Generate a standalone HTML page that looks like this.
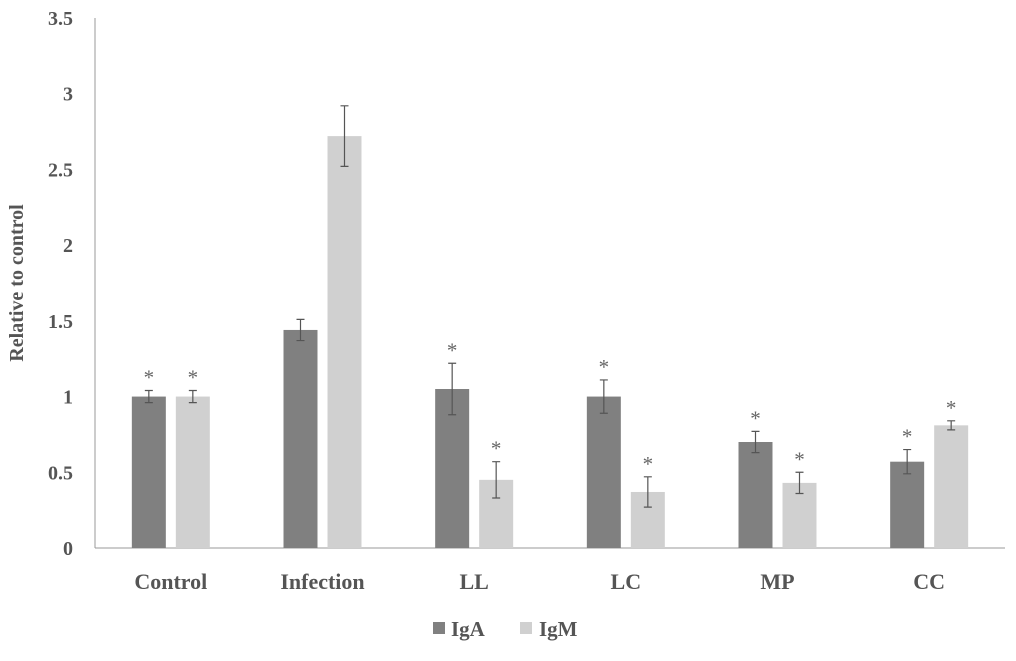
<!DOCTYPE html>
<html><head><meta charset="utf-8"><style>
body{margin:0;background:#fff;}
svg text{font-family:"Liberation Serif",serif;}
</style></head><body>
<svg id="chart" width="1016" height="656" viewBox="0 0 1016 656"></svg>
<script>
const categories=["Control","Infection","LL","LC","MP","CC"];
const igaValues=[1.0,1.44,1.05,1.0,0.70,0.57];
const igaErrors=[0.04,0.07,0.17,0.11,0.07,0.08];
const igmValues=[1.0,2.72,0.45,0.37,0.43,0.81];
const igmErrors=[0.04,0.20,0.12,0.10,0.07,0.03];
const significant=[true,false,true,true,true,true];
const yTicks=[0,0.5,1,1.5,2,2.5,3,3.5];
const yTickLabels=["0","0.5","1","1.5","2","2.5","3","3.5"];

const NS="http://www.w3.org/2000/svg";
const svg=document.getElementById('chart');
const x0=95,x1=1005,y0=548,yTop=18,yMax=3.5;
const yScale=v=>y0-(v/yMax)*(y0-yTop);
const groupW=(x1-x0)/categories.length;
const xCenter=i=>x0+groupW*(i+0.5);
const barW=34,offset=22;
function mk(tag,attrs){const e=document.createElementNS(NS,tag);for(const k in attrs)e.setAttribute(k,attrs[k]);svg.appendChild(e);return e;}

let ya=mk('line',{x1:x0,y1:yTop,x2:x0,y2:y0,stroke:'#999','stroke-width':1});


let xa=mk('line',{x1:x0,y1:y0,x2:x1,y2:y0,stroke:'#999','stroke-width':1});



yTicks.forEach((t,i)=>{
  const tx=mk('text',{x:73,y:yScale(t)+7,'text-anchor':'end','font-size':20,'font-weight':'bold',fill:'#555'});
  tx.textContent=yTickLabels[i];
  
  
});
const yt=mk('text',{x:0,y:0,transform:'translate(23,283) rotate(-90)','text-anchor':'middle','font-size':20,'font-weight':'bold',fill:'#555'});
yt.textContent='Relative to control';



function bar(cx,v,err,color,name,star){
  const r=mk('rect',{x:cx-barW/2,y:yScale(v),width:barW,height:y0-yScale(v),fill:color});
  
  
  const top=yScale(v+err),bot=yScale(v-err);
  const eb=mk('path',{d:`M${cx},${top}V${bot}M${cx-4},${top}H${cx+4}M${cx-4},${bot}H${cx+4}`,stroke:'#555','stroke-width':1.2,fill:'none'});
  
  
  if(star){
    const s=mk('text',{x:cx,y:top-6,'text-anchor':'middle','font-size':21,fill:'#666'});
    s.textContent='*';
    
    
  }
}
categories.forEach((c,i)=>{
  const cx=xCenter(i);
  bar(cx-offset,igaValues[i],igaErrors[i],'#808080','bar-iga-'+c.toLowerCase(),significant[i]);
  bar(cx+offset,igmValues[i],igmErrors[i],'#d0d0d0','bar-igm-'+c.toLowerCase(),significant[i]);
  const t=mk('text',{x:cx,y:589,'text-anchor':'middle','font-size':22,'font-weight':'bold',fill:'#555'});
  t.textContent=c;
  
  
});
const l1=mk('rect',{x:433,y:622,width:12,height:12,fill:'#808080'});


const lt1=mk('text',{x:451,y:636,'font-size':21,'font-weight':'bold',fill:'#555'});
lt1.textContent='IgA';


const l2=mk('rect',{x:520,y:622,width:12,height:12,fill:'#d0d0d0'});


const lt2=mk('text',{x:539,y:636,'font-size':21,'font-weight':'bold',fill:'#555'});
lt2.textContent='IgM';


</script>
</body></html>
